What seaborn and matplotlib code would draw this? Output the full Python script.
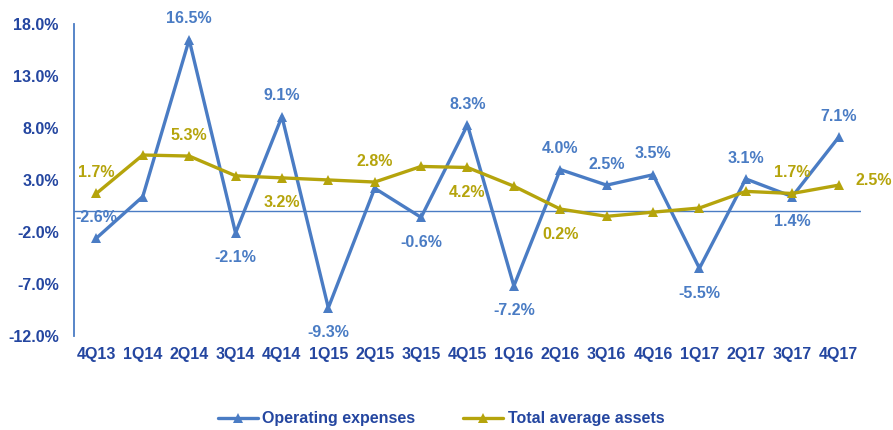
import matplotlib
matplotlib.use("Agg")
import matplotlib.pyplot as plt
import seaborn as sns
import pandas as pd
from matplotlib.ticker import FuncFormatter

quarters = ["4Q13", "1Q14", "2Q14", "3Q14", "4Q14", "1Q15", "2Q15", "3Q15", "4Q15",
            "1Q16", "2Q16", "3Q16", "4Q16", "1Q17", "2Q17", "3Q17", "4Q17"]
operating_expenses = [-2.6, 1.4, 16.5, -2.1, 9.1, -9.3, 2.2, -0.6, 8.3,
                      -7.2, 4.0, 2.5, 3.5, -5.5, 3.1, 1.4, 7.1]
total_average_assets = [1.7, 5.4, 5.3, 3.4, 3.2, 3.0, 2.8, 4.3, 4.2,
                        2.4, 0.2, -0.5, -0.1, 0.3, 1.9, 1.7, 2.5]
series_names = ["Operating expenses", "Total average assets"]
y_ticks = [-12.0, -7.0, -2.0, 3.0, 8.0, 13.0, 18.0]

# quarters that carry a value label, with where the label sits
opex_labels = {0: "up", 2: "up", 3: "down", 4: "up", 5: "down", 7: "down", 8: "up",
               9: "down", 10: "up", 11: "up", 12: "up", 13: "down", 14: "up",
               15: "down", 16: "up"}
assets_labels = {0: "up", 2: "up", 4: "down", 6: "up", 8: "down", 10: "down",
                 15: "up", 16: "right"}

BLUE = "#4a7cc4"
OLIVE = "#b5a40c"
TEXT_BLUE = "#2446a0"
FS = 11.5

df = pd.DataFrame({
    "quarter": quarters * 2,
    "x": list(range(len(quarters))) * 2,
    "value": operating_expenses + total_average_assets,
    "series": [series_names[0]] * len(quarters) + [series_names[1]] * len(quarters),
})

sns.set_theme(style="white")
plt.rcParams["font.family"] = ["Liberation Sans", "DejaVu Sans"]
plt.rcParams["font.weight"] = "bold"

fig = plt.figure(figsize=(8.93, 4.30), dpi=100)
ax = fig.add_axes([0.083, 0.219, 0.881, 0.725])

ax.axhline(0, color=BLUE, lw=1.0, zorder=1)

sns.lineplot(data=df, x="x", y="value", hue="series", style="series",
             palette=[BLUE, OLIVE], markers=["^", "^"], dashes=False,
             markersize=7, markeredgewidth=0, linewidth=2.4, ax=ax, zorder=3)

ax.set_xlim(-0.48, len(quarters) - 0.52)
ax.set_ylim(-12, 18)
ax.set_yticks(y_ticks)
ax.yaxis.set_major_formatter(FuncFormatter(lambda v, _: f"{v:.1f}%"))
ax.set_xticks(range(len(quarters)))
ax.set_xticklabels(quarters)
ax.tick_params(axis="both", length=0, labelsize=FS, labelcolor=TEXT_BLUE)
ax.tick_params(axis="x", pad=8)
ax.tick_params(axis="y", pad=11)
for lbl in ax.get_xticklabels() + ax.get_yticklabels():
    lbl.set_fontweight("bold")
ax.set_xlabel("")
ax.set_ylabel("")

for side in ["top", "right", "bottom"]:
    ax.spines[side].set_visible(False)
ax.spines["left"].set_color(BLUE)
ax.spines["left"].set_linewidth(1.3)

offsets = {"up": (0, 15, "center", "center"),
           "down": (0, -18, "center", "center"),
           "right": (25, 3, "center", "center")}


def add_labels(values, label_map, color):
    for i, where in label_map.items():
        dx, dy, ha, va = offsets[where]
        ax.annotate(f"{values[i]:.1f}%", (i, values[i]), xytext=(dx, dy),
                    textcoords="offset points", ha=ha, va=va, fontsize=FS,
                    fontweight="bold", color=color, zorder=4)


add_labels(operating_expenses, opex_labels, BLUE)
add_labels(total_average_assets, assets_labels, OLIVE)

handles, labels = ax.get_legend_handles_labels()
ax.get_legend().remove()
leg = fig.legend(handles, labels, loc="center", bbox_to_anchor=(0.494, 0.026),
                 ncol=2, frameon=False, fontsize=FS, handlelength=2.5,
                 handletextpad=0.3, columnspacing=3.0)
for text in leg.get_texts():
    text.set_color(TEXT_BLUE)
    text.set_fontweight("bold")

fig.savefig("out.png", dpi=100, facecolor="white")
